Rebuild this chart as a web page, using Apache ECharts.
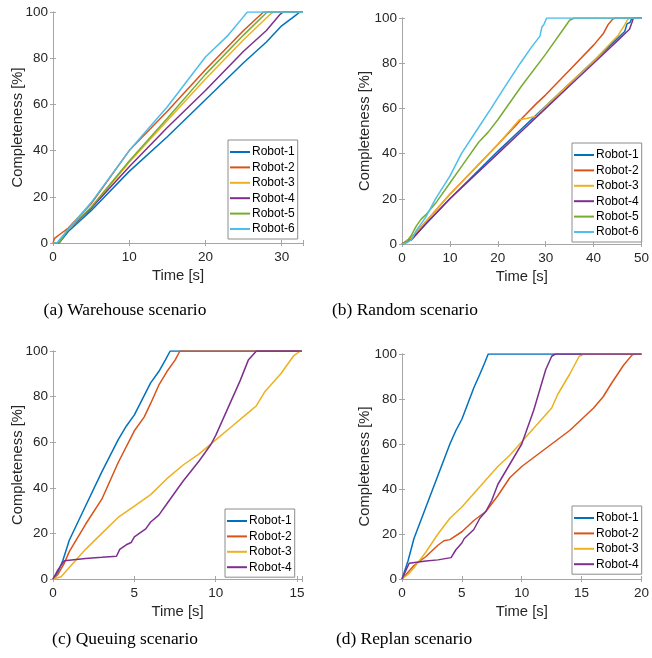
<!DOCTYPE html>
<html>
<head>
<meta charset="utf-8">
<script src="https://cdn.jsdelivr.net/npm/echarts@6/dist/echarts.min.js"></script>
<style>html,body{margin:0;padding:0;background:#fff;}#c{width:652px;height:658px;}</style>
</head>
<body>
<div id="c"></div>
<script>
// ---------- DATA ----------
const robotNames = ['Robot-1','Robot-2','Robot-3','Robot-4','Robot-5','Robot-6'];
const yTicks = [0,20,40,60,80,100];
const captions = ['(a) Warehouse scenario','(b) Random scenario','(c) Queuing scenario','(d) Replan scenario'];

// (a) Warehouse scenario  [time s, completeness %]
const warehouseR1 = [[0,0],[0.8,0],[2,5],[5,14],[10,31],[15,46],[20,62],[25,78],[28,87],[30,94],[32,99],[32.4,100],[32.8,100]];
const warehouseR2 = [[0,0],[0.2,2],[1,4],[2,6.5],[5,17],[10,40],[15,57],[20,75],[25,92],[27.3,99],[27.6,100],[32.8,100]];
const warehouseR3 = [[0,0],[0.6,0],[2,6],[5,15],[10,35],[15,53],[20,71],[25,88],[28.5,99],[28.9,100],[32.8,100]];
const warehouseR4 = [[0,0],[0.7,0],[2,6],[5,15],[10,33],[15,50],[20,66],[25,83],[28,92],[29.8,99],[30.2,100],[32.8,100]];
const warehouseR5 = [[0,0],[0.8,0],[2,6],[5,15.5],[10,35.5],[15,54],[20,73],[25,90],[27.8,99],[28.1,100],[32.8,100]];
const warehouseR6 = [[0,0],[0.5,0],[2,6],[5,17.5],[10,40],[15,59],[20,80.5],[23,90],[25,98],[25.5,100],[32.8,100]];

// (b) Random scenario
const randomR1 = [[0,0],[2,2],[5,9],[10,20],[15,30.5],[20,41],[25,51],[30,61],[35,71],[40,81],[45,91],[46.5,94],[47,97.5],[47.6,98],[48,100],[50,100]];
const randomR2 = [[0,0],[2,3],[5,10],[10,22],[15,33],[20,44],[24,53],[25,55.5],[28,62],[30,66],[35,77],[40,88],[42,93],[43,97],[44,99.5],[44.5,100],[50,100]];
const randomR3 = [[0,0],[2,3],[5,10],[10,22],[15,33],[20,44],[24.5,55],[26,55.5],[28,56.5],[30,61],[35,71],[40,81],[45,92],[46.5,97],[47,99],[47.5,100],[50,100]];
const randomR4 = [[0,0],[2,2],[5,9],[10,20],[15,30],[20,40],[25,50],[30,60],[35,70],[40,80],[45,90],[47,94],[47.5,95],[48,98],[48.3,100],[50,100]];
const randomR5 = [[0,0],[1,1],[2,4],[3,8],[4,11],[5,13],[7,18],[10,27],[13,36],[16,45],[18,49.5],[20,55],[25,70],[30,84],[34,96],[35,99],[36,100],[50,100]];
const randomR6 = [[0,0],[1,0.5],[2,2],[3,6],[5,12],[7,20],[10,30],[12.4,40],[15.5,50],[18.6,60],[21.6,70],[24.7,80],[27,87],[28.8,92],[29.2,96],[29.6,97],[30.2,100],[50,100]];

// (c) Queuing scenario
const queuingR1 = [[0,0],[0.3,3],[0.6,8],[1,17],[2,32],[3,47],[4,61],[4.5,67],[5,72],[5.5,79],[6,86],[6.5,91],[6.9,96],[7.2,100],[15.3,100]];
const queuingR2 = [[0,0],[0.3,2],[0.7,7],[1,12],[2,24],[3,35],[4,51],[5,65],[5.6,71],[6,77],[6.5,85],[7,91],[7.5,96],[7.8,100],[15.3,100]];
const queuingR3 = [[0,0],[0.5,1],[1,5],[2,13],[3,20],[4,27],[5,32],[6,37],[7,44],[8,50],[9,55],[10,61],[11,67],[12,73],[12.5,76],[13,82],[14,90],[14.8,98],[15.2,100],[15.3,100]];
const queuingR4 = [[0,0],[0.3,4],[0.7,8],[2,9],[3,9.5],[3.9,10],[4.1,13],[4.5,15],[4.8,16],[5,18.5],[5.5,21],[5.7,22],[6,25],[6.5,28],[7,33],[7.7,40],[8,43],[9,52],[9.7,59],[10,63],[11,79],[11.5,87],[12,96],[12.5,100],[15.3,100]];

// (d) Replan scenario
const replanR1 = [[0,0],[0.5,8],[1,18],[2,32],[3,46],[4,60],[4.5,66],[5,71],[5.5,78],[6,85],[6.5,91],[6.9,96],[7.2,100],[20,100]];
const replanR2 = [[0,0],[0.5,3],[1,6],[2,10],[3,15],[3.5,17],[4,17.5],[5,21],[6,26],[7,30],[8,37],[9,45],[10,50],[11,54],[12,58],[13,62],[14,66],[15,71],[16,76],[16.8,81],[17.5,87],[18.5,95],[19.2,99.5],[19.4,100],[20,100]];
const replanR3 = [[0,0],[0.5,2],[1,5],[2,12],[3,20],[4,27],[5,32],[6,38],[7,44],[8,50],[9,55],[10,61],[11,67],[12,73],[12.5,76],[13,82],[14,91],[14.8,99],[15.2,100],[20,100]];
const replanR4 = [[0,0],[0.6,7],[2,8],[3,8.5],[4.1,9.5],[4.5,13],[5,16],[5.2,18],[6,22],[6.5,27],[7,30],[7.5,35],[8,42],[9,51],[10,60],[11,75],[11.5,84],[12,93],[12.5,99],[12.8,100],[20,100]];

const warehouseSeries = [warehouseR1,warehouseR2,warehouseR3,warehouseR4,warehouseR5,warehouseR6];
const randomSeries = [randomR1,randomR2,randomR3,randomR4,randomR5,randomR6];
const queuingSeries = [queuingR1,queuingR2,queuingR3,queuingR4];
const replanSeries = [replanR1,replanR2,replanR3,replanR4];
const xMaxes = [32.8, 50, 15.3, 20];
const xIntervals = [10, 10, 5, 5];

// ---------- LAYOUT / STYLE ----------
const colors = ['#0072BD','#D95319','#EDB120','#7E2F8E','#77AC30','#4DBEEE'];
const sans = '"Liberation Sans", Arial, sans-serif';
const serif = '"Liberation Serif", "Times New Roman", serif';
const textColor = '#262626';
const axisGray = '#a6a6a6';
const grids = [
  {left:53, top:12, width:250, height:231},
  {left:402, top:18, width:245, height:226},
  {left:53, top:351, width:249, height:228},
  {left:402, top:354, width:245, height:225}
];
const legendPos = [
  {left:228, top:140},
  {left:572, top:143},
  {left:225, top:509},
  {left:572, top:506}
];
const yNameGaps = [27.5, 29.5, 27.5, 29.5];
const captionPos = [[125,310],[405,310],[125,639],[404,639]];
const panels = [warehouseSeries, randomSeries, queuingSeries, replanSeries];

const option = {
  animation:false,
  backgroundColor:'#fff',
  grid: grids.map(g => Object.assign({show:false, containLabel:false}, g)),
  xAxis:[], yAxis:[], series:[], legend:[],
  graphic: captions.map((t,i)=>({
    type:'text', x:captionPos[i][0], y:captionPos[i][1],
    style:{text:t, font:'17.4px '+serif, fill:'#000', textAlign:'center', textVerticalAlign:'middle'}
  }))
};

panels.forEach((sers, p) => {
  const xMax = xMaxes[p], xInt = xIntervals[p];
  const common = {min:0, max:xMax, interval:xInt, type:'value', gridIndex:p,
    axisLine:{show:true, lineStyle:{color:axisGray, width:1}},
    axisTick:{show:true, inside:true, length:3, lineStyle:{color:axisGray}},
    splitLine:{show:false}};
  option.xAxis.push(Object.assign({}, common, {
    position:'bottom',
    name:'Time [s]', nameLocation:'middle', nameGap:25, nameMoveOverlap:false,
    nameTextStyle:{fontSize:14.8, fontFamily:sans, color:textColor},
    axisLabel:{fontSize:13.5, fontFamily:sans, color:textColor, margin:7,
      formatter: v => (Math.abs(v/xInt - Math.round(v/xInt))<1e-6 ? String(v) : '')}
  }));
  option.xAxis.push(Object.assign({}, common, {position:'top', axisLabel:{show:false}}));
  const yCommon = {min:0, max:100, interval:20, type:'value', gridIndex:p,
    axisLine:{show:true, lineStyle:{color:axisGray, width:1}},
    axisTick:{show:true, inside:true, length:3, lineStyle:{color:axisGray}},
    splitLine:{show:false}};
  option.yAxis.push(Object.assign({}, yCommon, {
    position:'left',
    name:'Completeness [%]', nameLocation:'middle', nameGap:yNameGaps[p], nameRotate:90, nameMoveOverlap:false,
    nameTextStyle:{fontSize:14.8, fontFamily:sans, color:textColor},
    axisLabel:{fontSize:13.5, fontFamily:sans, color:textColor, margin:5,
      formatter: v => (yTicks.indexOf(v) >= 0 ? String(v) : '')}
  }));
  option.yAxis.push(Object.assign({}, yCommon, {position:'right', axisLabel:{show:false}}));
  sers.forEach((d, r) => {
    option.series.push({
      type:'line', name:robotNames[r], xAxisIndex:p*2, yAxisIndex:p*2,
      data:d, showSymbol:false, symbol:'none', smooth:false, clip:true,
      color:colors[r], itemStyle:{color:colors[r]},
      lineStyle:{color:colors[r], width:1.5}, z:2
    });
  });
  option.legend.push({
    left:legendPos[p].left, top:legendPos[p].top, orient:'vertical',
    data: robotNames.slice(0, sers.length),
    icon:'rect', itemWidth:20, itemHeight:2, itemGap:3.4,
    padding:[6,3,4,2], borderColor:'#8c8c8c', borderWidth:1, borderRadius:0,
    backgroundColor:'#fff', selectedMode:false,
    textStyle:{fontSize:12, fontFamily:sans, color:'#000', padding:[0,0,0,-3]}
  });
});

const chart = echarts.init(document.getElementById('c'), null, {renderer:'canvas'});
chart.setOption(option);
</script>
</body>
</html>
